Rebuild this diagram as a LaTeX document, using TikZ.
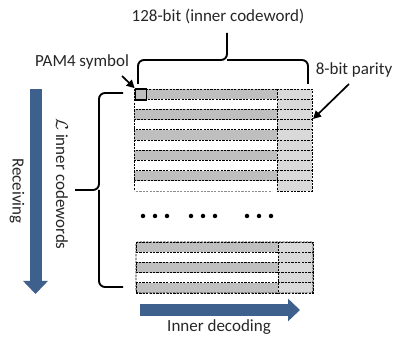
\documentclass[tikz,border=0pt]{standalone}
\usepackage{fontspec}
\setmainfont{Carlito}
\usetikzlibrary{arrows.meta}
\definecolor{flowblue}{RGB}{61,96,140}
\definecolor{datagray}{RGB}{191,191,191}
\definecolor{paritygray}{RGB}{217,217,217}
\tikzset{
  cell/.style={draw=black, dash pattern=on 2.2pt off 1.2pt, line width=0.9pt},
  datarow/.style={cell, fill=datagray},
  parrow/.style={cell, fill=paritygray},
  bracepath/.style={line width=1.9pt, rounded corners=6pt},
  pointer/.style={line width=1.7pt, -{Triangle[length=8pt,width=8pt]}},
  label/.style={font=\fontsize{17}{19}\selectfont, inner sep=0pt, text=black!85},
  dot/.style={circle, fill=black, inner sep=0pt, minimum size=4.5pt}
}
\begin{document}
\begin{tikzpicture}[x=1pt,y=-1pt]
\useasboundingbox (0,0) rectangle (394,339);

% upper block of inner codewords: 10 rows, data part and parity part
\foreach \i in {0,...,9} {
  \pgfmathsetmacro{\ya}{89+10.2*\i}
  \pgfmathsetmacro{\yb}{89+10.2*(\i+1)}
  \ifodd\i\else
    \draw[datarow] (134,\ya) rectangle (277,\yb);
  \fi
  \draw[parrow] (277,\ya) rectangle (312,\yb);
}
\draw[cell] (134,89) -- (134,191);
\draw[cell, draw=black!45] (136,191) -- (272,191);

% PAM4 symbol cell
\node[draw=black, line width=1.7pt, fill=datagray, minimum size=11pt, inner sep=0pt] (pam) at (141,94.5) {};

% lower block of inner codewords
\foreach \i in {0,...,4} {
  \pgfmathsetmacro{\ya}{242+10.2*\i}
  \pgfmathsetmacro{\yb}{242+10.2*(\i+1)}
  \ifodd\i\else
    \draw[datarow] (136,\ya) rectangle (278,\yb);
  \fi
  \draw[parrow] (278,\ya) rectangle (313,\yb);
}
\draw[cell, rounded corners=2pt] (136,242) rectangle (313,293);

% ellipsis between the blocks
\foreach \x in {143,155,167,191,203,215,247,259,271}
  \node[dot] at (\x,216) {};

% brace over the data part
\draw[bracepath] (138,84) -- (138,60) -- (227,60) -- (227,33);
\draw[bracepath] (227,60) -- (308,60) -- (308,84);
\node[label] (width) at (218,16) {128-bit (inner codeword)};

% brace beside the rows
\draw[bracepath] (123,93) -- (99,93) -- (99,190) -- (75,190);
\draw[bracepath] (99,190) -- (99,287) -- (123,287);
\node[label, rotate=-90] (count) at (62,184) {$\mathcal{L}$ inner codewords};

% pointers
\node[label] (pamlbl) at (82,62) {PAM4 symbol};
\coordinate (pamtail) at (122,76);
\draw[pointer] (pamtail) -- (pam.north west);
\node[label] (parlbl) at (354,70) {8-bit parity};
\coordinate (partail) at (349,84);
\coordinate (parhead) at (313,119);
\draw[pointer] (partail) -- (parhead);

% receiving direction
\coordinate (rxtop) at (35.5,89);
\coordinate (rxend) at (35.5,294);
\draw[flowblue, line width=12pt, -{Triangle[length=13pt,width=24pt]}] (rxtop) -- (rxend);
\node[label, rotate=-90] (rx) at (17,191) {Receiving};

% decoding direction
\coordinate (dcstart) at (140,310);
\coordinate (dcend) at (300,310);
\draw[flowblue, line width=12pt, -{Triangle[length=12pt,width=22pt]}] (dcstart) -- (dcend);
\node[label] (dc) at (219,327) {Inner decoding};
\end{tikzpicture}
\end{document}
